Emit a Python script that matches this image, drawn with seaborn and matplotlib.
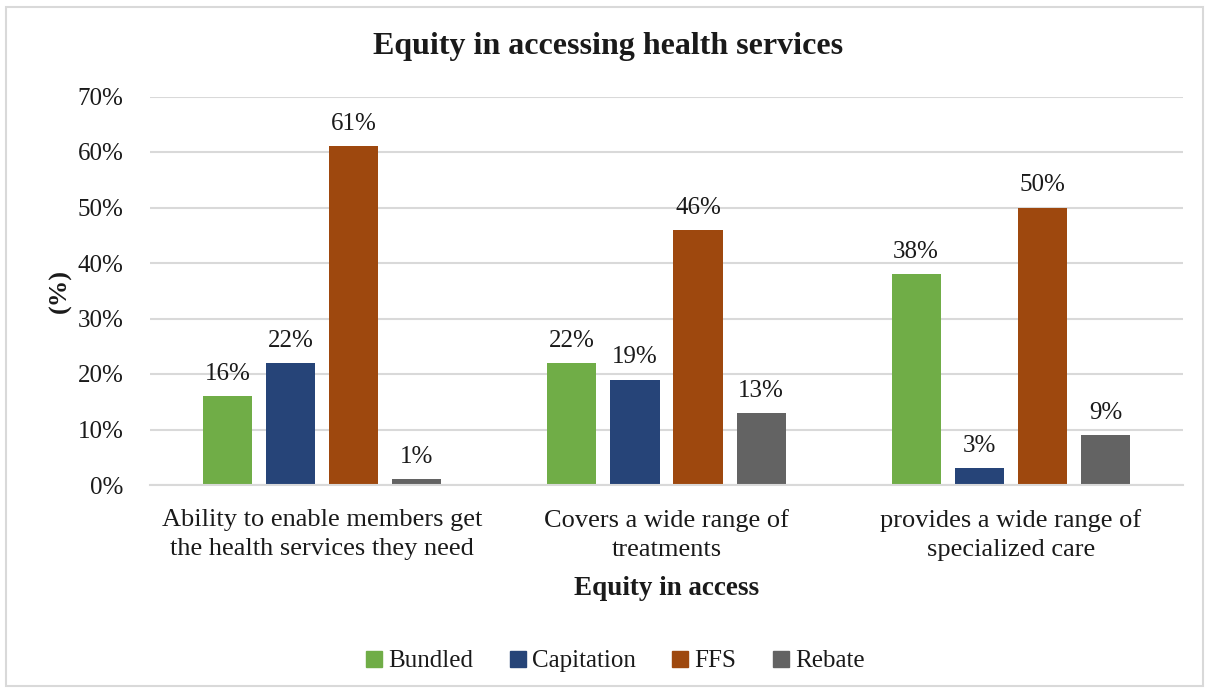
import matplotlib
matplotlib.use("Agg")
import matplotlib.pyplot as plt
from matplotlib.patches import Rectangle
from matplotlib.lines import Line2D
from matplotlib.ticker import PercentFormatter, MultipleLocator
import seaborn as sns
import pandas as pd

# Survey results (% of respondents) by payment mechanism
categories = [
    "Ability to enable members get\nthe health services they need",
    "Covers a wide range of\ntreatments",
    "provides a wide range of\nspecialized care",
]
series = ["Bundled", "Capitation", "FFS", "Rebate"]
bundled = [16, 22, 38]
capitation = [22, 19, 3]
ffs = [61, 46, 50]
rebate = [1, 13, 9]
colors = ["#70AD47", "#264478", "#9E480E", "#636363"]

values = {"Bundled": bundled, "Capitation": capitation, "FFS": ffs, "Rebate": rebate}
rows = []
for s in series:
    for c, v in zip(categories, values[s]):
        rows.append({"category": c, "series": s, "value": v})
df = pd.DataFrame(rows)

sns.set_theme(style="white")
plt.rcParams["font.family"] = ["Liberation Serif", "DejaVu Serif"]

fig = plt.figure(figsize=(12.09, 6.91), dpi=100)
ax = fig.add_axes([150 / 1209, 1 - 485 / 691, (1183 - 150) / 1209, (485 - 96.5) / 691])

sns.barplot(
    data=df, x="category", y="value", hue="series",
    order=categories, hue_order=series, palette=colors,
    width=0.733, gap=0.22, ax=ax, legend=False, saturation=1,
    edgecolor="none",
)

# value labels above each bar
for container, s in zip(ax.containers, series):
    labels = [f"{v:.0f}%" for v in values[s]]
    ax.bar_label(container, labels=labels, padding=8, fontsize=18, color="#1a1a1a")

ax.set_xlim(-0.5, 2.5)
ax.set_ylim(0, 70)
ax.yaxis.set_major_locator(MultipleLocator(10))
ax.yaxis.set_major_formatter(PercentFormatter(decimals=0))
ax.grid(axis="y", color="#D9D9D9", linewidth=1.5)
ax.set_axisbelow(True)
for side in ["top", "right", "left"]:
    ax.spines[side].set_visible(False)
ax.spines["bottom"].set_color("#D9D9D9")
ax.spines["bottom"].set_linewidth(1.5)

ax.tick_params(axis="y", length=0, pad=19, labelsize=18, labelcolor="#1a1a1a")
ax.tick_params(axis="x", length=0, pad=17, labelsize=19, labelcolor="#1a1a1a")
for lbl in ax.get_xticklabels():
    lbl.set_linespacing(1.43)

ax.set_xlabel("Equity in access", fontsize=19.5, fontweight="bold", labelpad=11, color="#1a1a1a")
ax.set_ylabel("(%)", fontsize=19, fontweight="bold", labelpad=4, color="#1a1a1a")

fig.suptitle("Equity in accessing health services", fontsize=23, fontweight="bold",
             y=0.932, va="center", x=0.503, color="#1a1a1a")

handles = [Line2D([], [], marker="s", linestyle="none", markersize=11,
                  markerfacecolor=c, markeredgecolor=c) for c in colors]
fig.legend(handles, series, loc="center", bbox_to_anchor=(0.507, 1 - 661 / 691),
           ncol=4, frameon=False, fontsize=18, handletextpad=0.05,
           columnspacing=1.3, handlelength=1.0, labelcolor="#1a1a1a")

# chart border
fig.patches.append(Rectangle((6 / 1209, 1 - 686 / 691), 1197 / 1209, 679 / 691,
                             transform=fig.transFigure, fill=False,
                             edgecolor="#D9D9D9", linewidth=1.5))

fig.savefig("out.png", dpi=100)
